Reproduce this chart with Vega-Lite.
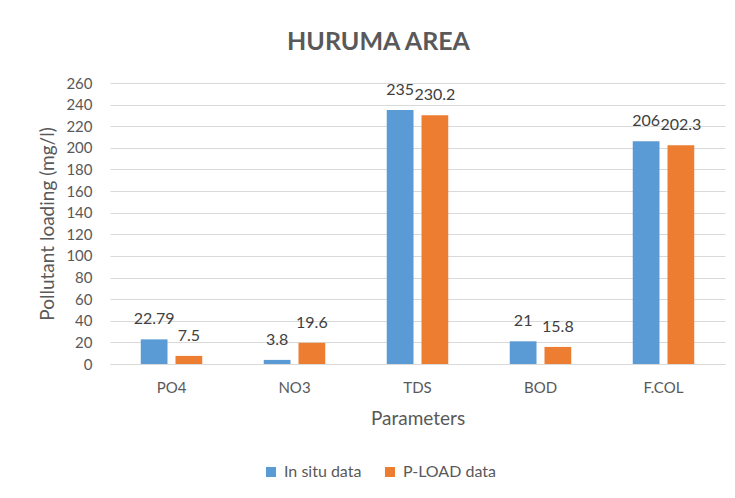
{
  "$schema": "https://vega.github.io/schema/vega-lite/v6.json",
  "width": 615,
  "height": 281,
  "autosize": {"type": "none"},
  "padding": {"left": 110, "top": 83, "right": 10, "bottom": 134},
  "background": "white",
  "title": {"text": "HURUMA AREA", "fontSize": 25, "font": "Lato", "fontWeight": "bold", "color": "#595959", "offset": 21, "dx": -39},
  "config": {"view": {"stroke": null}},
  "data": {"values": [
    {"parameter": "PO4", "series": "In situ data", "value": 22.79},
    {"parameter": "PO4", "series": "P-LOAD data", "value": 7.5},
    {"parameter": "NO3", "series": "In situ data", "value": 3.8},
    {"parameter": "NO3", "series": "P-LOAD data", "value": 19.6},
    {"parameter": "TDS", "series": "In situ data", "value": 235},
    {"parameter": "TDS", "series": "P-LOAD data", "value": 230.2},
    {"parameter": "BOD", "series": "In situ data", "value": 21},
    {"parameter": "BOD", "series": "P-LOAD data", "value": 15.8},
    {"parameter": "F.COL", "series": "In situ data", "value": 206},
    {"parameter": "F.COL", "series": "P-LOAD data", "value": 202.3}
  ]},
  "encoding": {
    "x": {
      "field": "parameter", "type": "nominal",
      "sort": ["PO4", "NO3", "TDS", "BOD", "F.COL"],
      "scale": {"paddingInner": 0.5, "paddingOuter": 0.25},
      "axis": {"title": "Parameters", "labelAngle": 0, "labelFont": "Lato", "labelFontSize": 15, "labelColor": "#595959", "labelPadding": 16, "ticks": false, "domainColor": "#D9D9D9", "titleFont": "Lato", "titleFontSize": 19, "titleFontWeight": "normal", "titleColor": "#595959", "titlePadding": 14}
    },
    "xOffset": {"field": "series", "type": "nominal", "sort": ["In situ data", "P-LOAD data"], "scale": {"paddingInner": 0.23}},
    "y": {
      "field": "value", "type": "quantitative",
      "scale": {"domain": [0, 260], "nice": false},
      "axis": {"title": "Pollutant loading (mg/l)", "values": [0, 20, 40, 60, 80, 100, 120, 140, 160, 180, 200, 220, 240, 260], "labelFont": "Lato", "labelFontSize": 15, "labelColor": "#595959", "labelPadding": 18, "ticks": false, "domain": false, "gridColor": "#D9D9D9", "titleFont": "Lato", "titleFontSize": 19, "titleFontWeight": "normal", "titleColor": "#595959", "titlePadding": 8}
    }
  },
  "layer": [
    {
      "mark": {"type": "bar"},
      "encoding": {
        "color": {
          "field": "series", "type": "nominal",
          "scale": {"domain": ["In situ data", "P-LOAD data"], "range": ["#5B9BD5", "#ED7D31"]},
          "legend": {"title": null, "orient": "none", "direction": "horizontal", "legendX": 153, "legendY": 381, "symbolType": "square", "symbolSize": 100, "symbolStrokeWidth": 0, "labelFont": "Lato", "labelFontSize": 16, "labelColor": "#595959", "labelOffset": 5, "columnPadding": 20}
        }
      }
    },
    {
      "mark": {"type": "text", "dy": -12, "baseline": "bottom", "font": "Lato", "fontSize": 16, "color": "#404040"},
      "encoding": {"text": {"field": "value", "type": "quantitative", "format": "~g"}}
    }
  ]
}
